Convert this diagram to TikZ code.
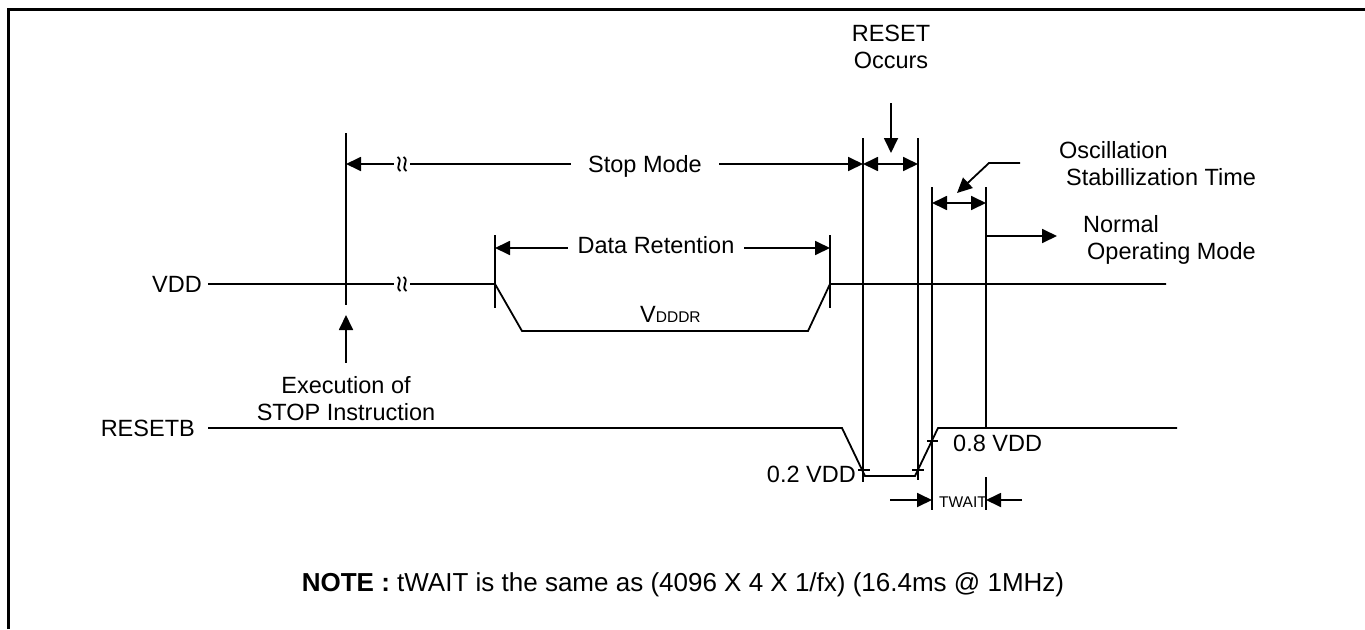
\documentclass[tikz,border=0pt]{standalone}
\usepackage{fontspec}
\setmainfont{Liberation Sans}
\usetikzlibrary{arrows.meta, calc, positioning}

\begin{document}
\begin{tikzpicture}[
    x=1pt, y=-1pt,
    font=\fontsize{23.5}{27}\selectfont,
    >={Triangle[length=15pt, width=14pt]},
    wave/.style={draw, line width=1.8pt},
    marker/.style={draw, line width=1.8pt},
    span/.style={draw, line width=1.8pt, <->},
    pointer/.style={draw, line width=1.8pt, ->},
    tick/.style={draw, line width=1.4pt},
    txt/.style={inner sep=0pt, align=center},
    small/.style={font=\fontsize{15.5}{18}\selectfont},
    gapmark/.pic={
        \fill[white] (-8,-9) rectangle (8,9);
        \foreach \dx in {-3,3}
            \draw[line width=1.8pt] (\dx-1.5,-7) .. controls (\dx+5,-3) and (\dx-5,3) .. (\dx+1.5,7);
    }
]

    % Frame
    \useasboundingbox (0,0) rectangle (1365,629);
    \draw[line width=3pt] (8,629) -- (8,9) -- (1365,9);

    % Signal names
    \node[txt, anchor=east, inner xsep=6pt] (vdd) at (208,284) {VDD};
    \node[txt, anchor=east, inner xsep=13pt] (resetb) at (208,428) {RESETB};

    % Waveforms
    \draw[wave] (vdd.east) -- (495,284) -- (522,331) -- (808,331) -- (830,284) -- (1166,284);
    \draw[wave] (resetb.east) -- (842,428) -- (865,476) -- (915,476) -- (938,428) -- (1177,428);
    \pic at (402,284) {gapmark};

    % Time markers
    \foreach \x/\ya/\yb in {346/133/305, 495/235/308, 830/235/308, 863/138/482,
                            918/138/480, 932/187/510, 986/187/428, 986/477/510}
        \draw[marker] (\x,\ya) -- (\x,\yb);

    % Stop mode and reset spans
    \draw[span] (346,164) -- (863,164);
    \node[txt, fill=white, inner xsep=17pt, anchor=base] (stop) at (645,172) {Stop Mode};
    \pic at (402,164) {gapmark};
    \draw[span] (863,164) -- (918,164);

    % Data retention span
    \draw[span] (495,248) -- (830,248);
    \node[txt, fill=white, inner xsep=10pt] (ret) at (656,245) {Data Retention};
    \node[txt, anchor=base west] (vddr) at (640,322) {V{\fontsize{15.5}{18}\selectfont DDDR}};

    % Oscillation and normal mode
    \draw[span] (932,203) -- (986,203);
    \draw[pointer] (986,236) -- (1057,236);
    \node[txt, align=left, anchor=north west] (osc) at (1059,141) {Oscillation\\\hspace*{7pt}Stabillization Time};
    \draw[pointer] (1020,163) -- (989,163) -- (957,193);
    \node[txt, align=left, anchor=north west] (norm) at (1083,215) {Normal\\\hspace*{4pt}Operating Mode};

    % Event pointers
    \node[txt] (rst) at (891,47) {RESET\\Occurs};
    \draw[pointer] ($(rst.south)+(0,34)$) -- (891,153);
    \node[txt] (exec) at (346,399) {Execution of\\STOP Instruction};
    \draw[pointer] ($(exec.north)+(0,-14)$) -- (346,315);

    % Reset thresholds
    \draw[tick] (858,470) -- (870,470);
    \draw[tick] (912,470) -- (924,470);
    \draw[tick] (927,441) -- (938,441);
    \node[txt, anchor=east] (low) at (856,474) {0.2 VDD};
    \node[txt, anchor=west] (high) at (953,443) {0.8 VDD};

    % Wait time
    \draw[pointer] (890,500) -- (932,500);
    \draw[pointer] (1022,500) -- (986,500);
    \node[txt, small] (twait) at (963,502) {TWAIT};

    % Note
    \node[txt, anchor=base, font=\fontsize{26}{30}\selectfont] (note) at (683,591) {\textbf{NOTE :} tWAIT is the same as (4096 X 4 X 1/fx) (16.4ms @ 1MHz)};

\end{tikzpicture}
\end{document}
